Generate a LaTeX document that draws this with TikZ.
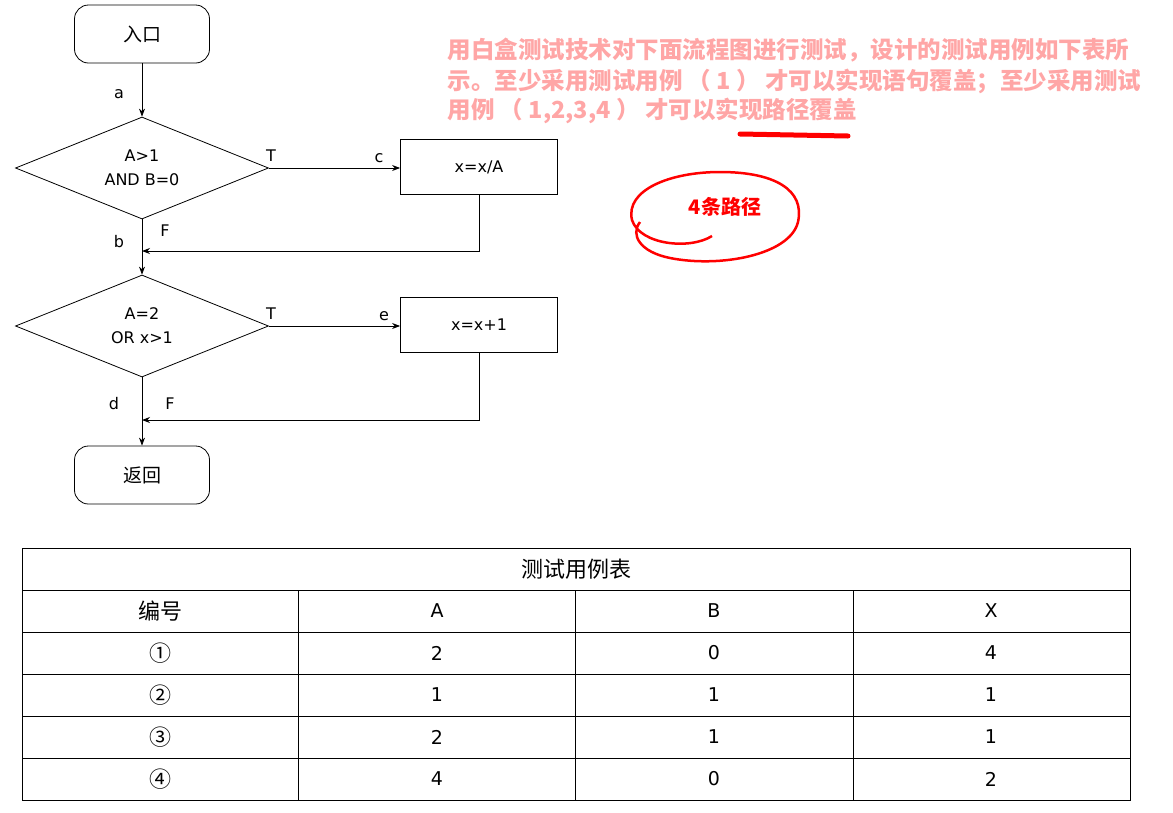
\documentclass[tikz,border=0pt]{standalone}
\usepackage{fontspec}
\setmainfont{DejaVu Sans}
\newfontfamily\cjk{Noto Sans CJK SC}
\usetikzlibrary{arrows.meta,shapes.geometric}
\begin{document}
\begin{tikzpicture}[x=1pt,y=-1pt,
  term/.style={draw,thick,rounded corners=14pt,minimum width=135pt,minimum height=58pt,font=\cjk\fontsize{19}{20}\selectfont},
  dia/.style={draw,thick,diamond,aspect=2.48,minimum width=253pt,minimum height=102pt,inner sep=0pt,align=center,font=\fontsize{16}{24}\selectfont},
  proc/.style={draw,thick,minimum width=157pt,minimum height=55pt,font=\fontsize{16}{18}\selectfont},
  lab/.style={font=\fontsize{16}{18}\selectfont},
  arr/.style={thick,-{Stealth[length=8pt,width=6pt]}},
  note/.style={anchor=west,font=\cjk\bfseries\fontsize{23.5}{26}\selectfont,text=red!35},
  cell/.style={font=\fontsize{19}{20}\selectfont}]
\useasboundingbox (0,0) rectangle (1173,812);
\node[term] (in) at (142,34) {入口};
\node[dia] (d1) at (142,168) {A>1\\AND B=0};
\node[proc] (p1) at (479,167) {x=x/A};
\node[dia] (d2) at (142,326) {A=2\\OR x>1};
\node[proc] (p2) at (479,325) {x=x+1};
\node[term] (out) at (142,475) {返回};
\coordinate (j1) at (142,251);
\coordinate (j2) at (142,420);
\draw[arr] (in) -- (d1.north);
\draw[arr] (d1.east) -- (p1.west |- d1.east);
\draw[thick] (d1.south) -- (j1);
\draw[arr] (p1.south) |- (j1);
\draw[arr] (j1) -- (d2.north);
\draw[arr] (d2.east) -- (p2.west |- d2.east);
\draw[thick] (d2.south) -- (j2);
\draw[arr] (p2.south) |- (j2);
\draw[arr] (j2) -- (out.north);
\node[lab] (la) at (119,94) {a};
\node[lab] (lt1) at (271,156) {T};
\node[lab] (lc) at (379,158) {c};
\node[lab] (lb) at (119,242) {b};
\node[lab] (lf1) at (165,231) {F};
\node[lab] (lt2) at (271,314) {T};
\node[lab] (le) at (384,316) {e};
\node[lab] (ld) at (114,404) {d};
\node[lab] (lf2) at (170,404) {F};
\node[note] (n1) at (444,50) {用白盒测试技术对下面流程图进行测试，设计的测试用例如下表所};
\node[note] (n2) at (444,81) {示。至少采用测试用例 （ 1 ） 才可以实现语句覆盖；至少采用测试};
\node[note] (n3) at (444,111) {用例 （ 1,2,3,4 ） 才可以实现路径覆盖};
\draw[red,line width=5pt,line cap=round] (740,134) -- (848,136);
\node[font=\cjk\bfseries\fontsize{20}{22}\selectfont,text=red] (n4) at (725,207) {4条路径};
\draw[red,line width=2.5pt] (712,236) .. controls (690,250) and (640,245) .. (632,220)
  .. controls (625,190) and (670,172) .. (720,172) .. controls (775,172) and (805,190) .. (798,222)
  .. controls (790,255) and (720,268) .. (670,258) .. controls (640,252) and (630,235) .. (640,222);
% table
\draw[thick] (22,548) rectangle (1130,800);
\foreach \y in {590,632,674,716,758} \draw (22,\y) -- (1130,\y);
\foreach \x in {298,575,853} \draw (\x,590) -- (\x,800);
\node[cell,font=\cjk\fontsize{22}{22}\selectfont] at (576,569) {测试用例表};
\node[cell,font=\cjk\fontsize{22}{22}\selectfont] at (160,611) {编号};
\node[cell] at (437,611) {A};
\node[cell] at (714,611) {B};
\node[cell] at (991,611) {X};
\foreach \n/\a/\b/\c [count=\i] in {①/2/0/4,②/1/1/1,③/2/1/1,④/4/0/2}{
  \pgfmathsetmacro\yy{611+42*\i}
  \node[cell,font=\cjk\fontsize{22}{22}\selectfont] at (160,\yy) {\n};
  \node[cell] at (437,\yy) {\a};
  \node[cell] at (714,\yy) {\b};
  \node[cell] at (991,\yy) {\c};
}
\end{tikzpicture}
\end{document}
